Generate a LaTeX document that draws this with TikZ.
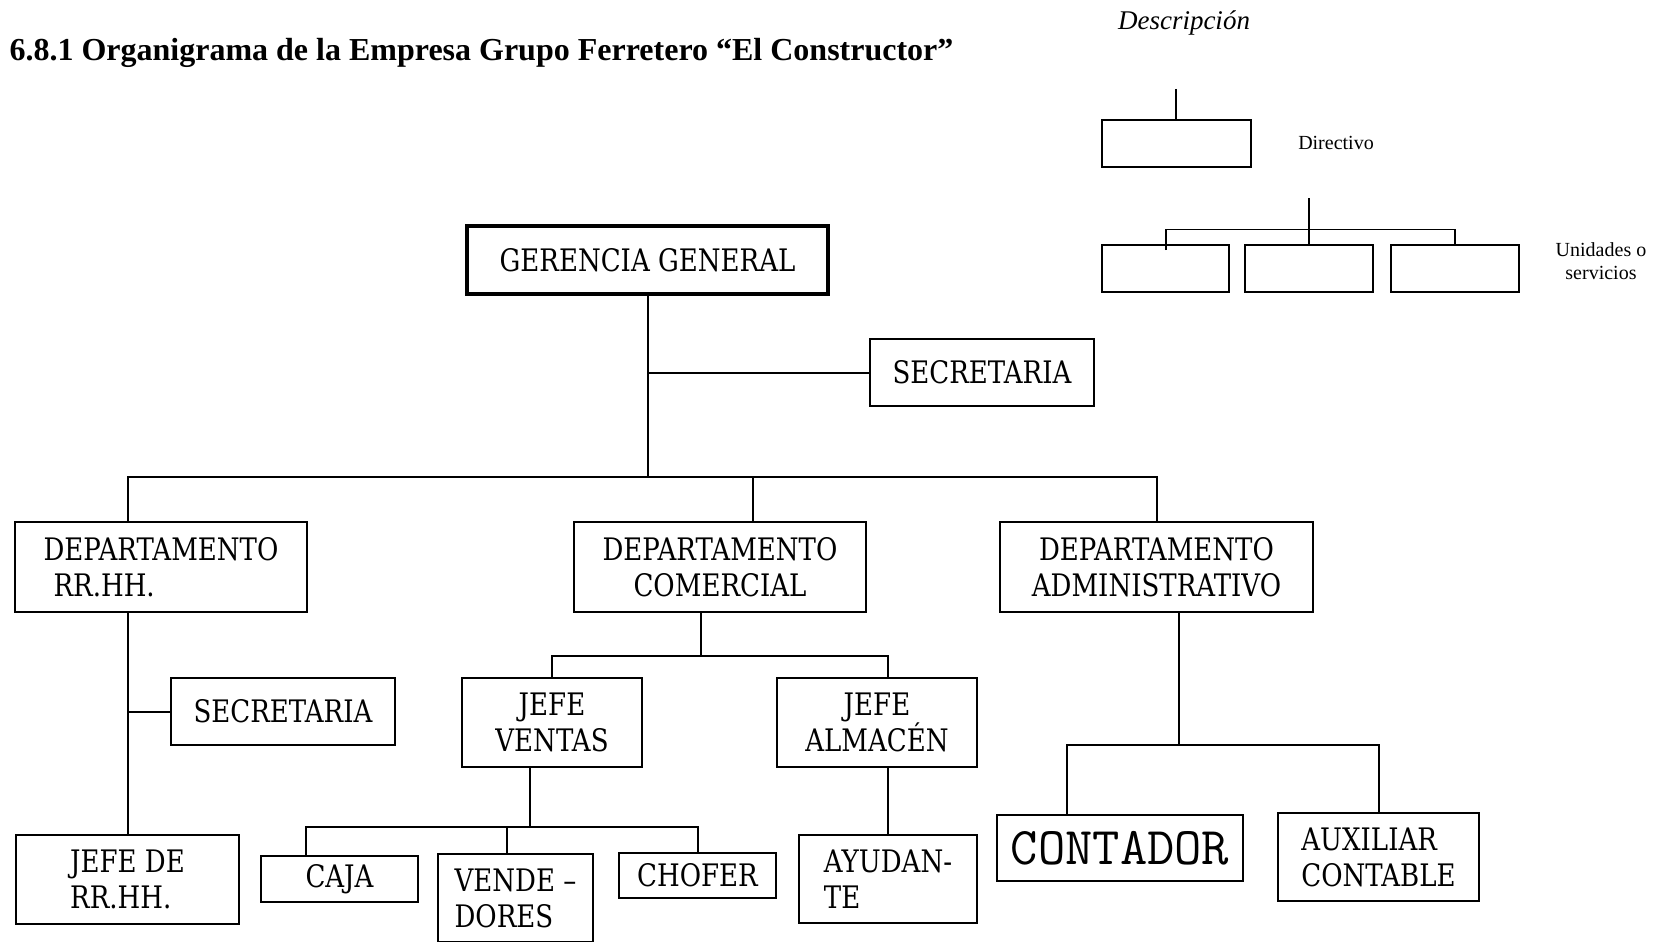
\documentclass[tikz,border=0pt]{standalone}
\usepackage{fontspec}
\setmainfont{Liberation Serif}
\newfontfamily\boxfont[FakeStretch=0.84]{DejaVu Serif}

\begin{document}
\begin{tikzpicture}[x=1pt,y=-1pt,
  org/.style={draw,line width=2pt,inner sep=0pt,align=center,font=\boxfont\fontsize{31}{36}\selectfont},
  lnk/.style={line width=2pt},
  ley/.style={draw,line width=1.5pt,inner sep=0pt}]
\useasboundingbox (0,0) rectangle (1666,942);

\node[anchor=base west,font=\bfseries\fontsize{32}{36}\selectfont] (tit) at (6,60) {6.8.1 Organigrama de la Empresa Grupo Ferretero “El Constructor”};

% leyenda
\node[anchor=base,font=\itshape\fontsize{27}{30}\selectfont] (desc) at (1184,30) {Descripción};
\node[ley,minimum width=149,minimum height=47] (dir) at (1176.5,143.5) {};
\node[font=\fontsize{20}{23}\selectfont] (ldir) at (1336,143) {Directivo};
\node[ley,minimum width=127,minimum height=47] (u1) at (1165.5,268.5) {};
\node[ley,minimum width=128,minimum height=47] (u2) at (1309,268.5) {};
\node[ley,minimum width=128,minimum height=47] (u3) at (1455,268.5) {};
\node[align=center,font=\fontsize{20}{23}\selectfont] (luni) at (1601,261) {Unidades o\\servicios};
\coordinate (dtop) at (1176,89);
\coordinate (utop) at (1309,198);
\coordinate (ubar) at (1309,229.5);
\coordinate (uend) at (1166,250);
\draw[line width=1.5pt] (dtop) -- (dtop |- dir.north);
\draw[line width=1.5pt] (utop) -- (u2.north);
\draw[line width=1.5pt] (uend) |- (ubar) -| (u3.north);

% organigrama
\node[org,line width=4.5pt,minimum width=361,minimum height=68] (gg) at (647.5,260) {GERENCIA GENERAL};
\node[org,minimum width=224,minimum height=67] (sec) at (982,372.5) {SECRETARIA};
\node[org,align=left,minimum width=292,minimum height=90] (drh) at (161,567) {DEPARTAMENTO\\\hspace*{10pt}RR.HH.};
\node[org,minimum width=292,minimum height=90] (dco) at (720,567) {DEPARTAMENTO\\COMERCIAL};
\node[org,minimum width=313,minimum height=90] (dad) at (1156.5,567) {DEPARTAMENTO\\ADMINISTRATIVO};
\node[org,minimum width=224,minimum height=67] (srh) at (283,711.5) {SECRETARIA};
\node[org,align=left,minimum width=223,minimum height=89] (jrh) at (127.5,879.5) {JEFE DE\\RR.HH.};
\node[org,minimum width=180,minimum height=89] (jve) at (552,722.5) {JEFE\\VENTAS};
\node[org,minimum width=200,minimum height=89] (jal) at (877,722.5) {JEFE\\ALMACÉN};
\node[org,minimum width=157,minimum height=46] (caj) at (339.5,879) {CAJA};
\node[org,align=left,minimum width=155,minimum height=88] (ven) at (515.5,898) {VENDE –\\DORES};
\node[org,minimum width=157,minimum height=45] (cho) at (697.5,875.5) {CHOFER};
\node[org,align=left,minimum width=178,minimum height=88] (ayu) at (888,879) {AYUDAN-\\TE};
\node[org,font=\ttfamily\fontsize{53}{56}\selectfont,minimum width=246,minimum height=66] (cont) at (1120,848) {CONTADOR};
\node[org,align=left,minimum width=201,minimum height=88] (aux) at (1378.5,857) {AUXILIAR\\CONTABLE};

\coordinate (b1) at (127.5,477);
\coordinate (b2) at (753,477);
\coordinate (b3) at (1156.5,477);
\draw[lnk] (gg.south) -- (gg.south |- b1);
\draw[lnk] (sec.west) -- (sec.west -| gg.south);
\draw[lnk] (b1 |- drh.north) -- (b1) -- (b3) -- (dad.north);
\draw[lnk] (b2) -- (b2 |- dco.north);

\draw[lnk] (jrh.north) -- (jrh.north |- drh.south);
\draw[lnk] (srh.west) -- (srh.west -| jrh.north);

\coordinate (cbar) at (701,656);
\draw[lnk] (cbar |- dco.south) -- (cbar);
\draw[lnk] (jve.north) |- (cbar) -| (ayu.north |- jal.north);
\draw[lnk] (ayu.north) -- (ayu.north |- jal.south);

\coordinate (vbar) at (530,827);
\coordinate (vcaj) at (306,827);
\coordinate (vven) at (507,827);
\draw[lnk] (vbar |- jve.south) -- (vbar);
\draw[lnk] (vcaj |- caj.north) -- (vcaj) -- (vcaj -| cho.north) -- (cho.north);
\draw[lnk] (vven) -- (vven |- ven.north);

\coordinate (abar) at (1179,745);
\coordinate (acon) at (1067,745);
\draw[lnk] (abar |- dad.south) -- (abar);
\draw[lnk] (acon |- cont.north) -- (acon) -| (aux.north);
\end{tikzpicture}
\end{document}
